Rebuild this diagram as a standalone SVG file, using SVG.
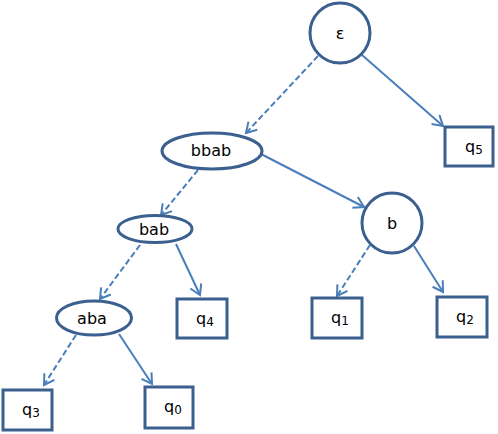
<svg xmlns="http://www.w3.org/2000/svg" width="498" height="434" viewBox="0 0 498 434">
<defs>
<marker id="arr" markerWidth="14" markerHeight="14" viewBox="-12 -7 14 14" refX="0" refY="0" orient="auto" markerUnits="userSpaceOnUse">
<path d="M-10,-6 L0,0 L-10,6" fill="none" stroke="#4A7EBB" stroke-width="2"/>
</marker>
</defs>
<style>
.n{fill:#fff;stroke:#3B6090;stroke-width:3}
.c{stroke:#4A7EBB;stroke-width:2;fill:none;marker-end:url(#arr)}
.d{stroke-dasharray:6,3}
text{font-family:"DejaVu Sans",Verdana,sans-serif;font-size:16px;fill:#000}
.l{text-anchor:middle}
.s{font-size:12px}
</style>
<rect width="498" height="434" fill="#fff"/>
<g id="connectors">
<line class="c d" x1="318" y1="56" x2="246" y2="133"/>
<line class="c" x1="362" y1="55" x2="443" y2="126"/>
<line class="c" x1="261" y1="154" x2="364" y2="207"/>
<line class="c d" x1="198" y1="170" x2="161" y2="215"/>
<line class="c d" x1="140" y1="245" x2="100" y2="299"/>
<line class="c" x1="176" y1="244" x2="200" y2="295"/>
<line class="c d" x1="76" y1="335" x2="44" y2="385"/>
<line class="c" x1="119" y1="334" x2="152" y2="384"/>
<line class="c d" x1="370" y1="245" x2="337" y2="296"/>
<line class="c" x1="414" y1="246" x2="443" y2="292"/>
</g>
<g id="eps"><circle class="n" cx="340" cy="33" r="30"/><text class="l" x="340" y="39">ε</text></g>
<g id="bbab"><ellipse class="n" cx="212" cy="151" rx="50" ry="18"/><text class="l" x="211" y="156">bbab</text></g>
<g id="bab"><ellipse class="n" cx="155" cy="229" rx="37" ry="13.5"/><text class="l" x="154" y="235">bab</text></g>
<g id="aba"><ellipse class="n" cx="94" cy="318" rx="37.5" ry="17"/><text class="l" x="92" y="324">aba</text></g>
<g id="b"><circle class="n" cx="392" cy="223" r="30"/><text class="l" x="392" y="229">b</text></g>
<g id="q5"><rect class="n" x="445" y="127" width="48" height="39"/><text x="465" y="152">q<tspan class="s" dy="2">5</tspan></text></g>
<g id="q4"><rect class="n" x="177" y="299" width="50" height="39"/><text x="196" y="324">q<tspan class="s" dy="2">4</tspan></text></g>
<g id="q3"><rect class="n" x="3" y="390" width="49" height="40"/><text x="22" y="415">q<tspan class="s" dy="2">3</tspan></text></g>
<g id="q0"><rect class="n" x="145" y="387" width="48" height="41"/><text x="164" y="412">q<tspan class="s" dy="2">0</tspan></text></g>
<g id="q1"><rect class="n" x="312" y="298" width="50" height="40"/><text x="331" y="323">q<tspan class="s" dy="2">1</tspan></text></g>
<g id="q2"><rect class="n" x="437" y="297" width="50" height="40"/><text x="456" y="322">q<tspan class="s" dy="2">2</tspan></text></g>
</svg>
